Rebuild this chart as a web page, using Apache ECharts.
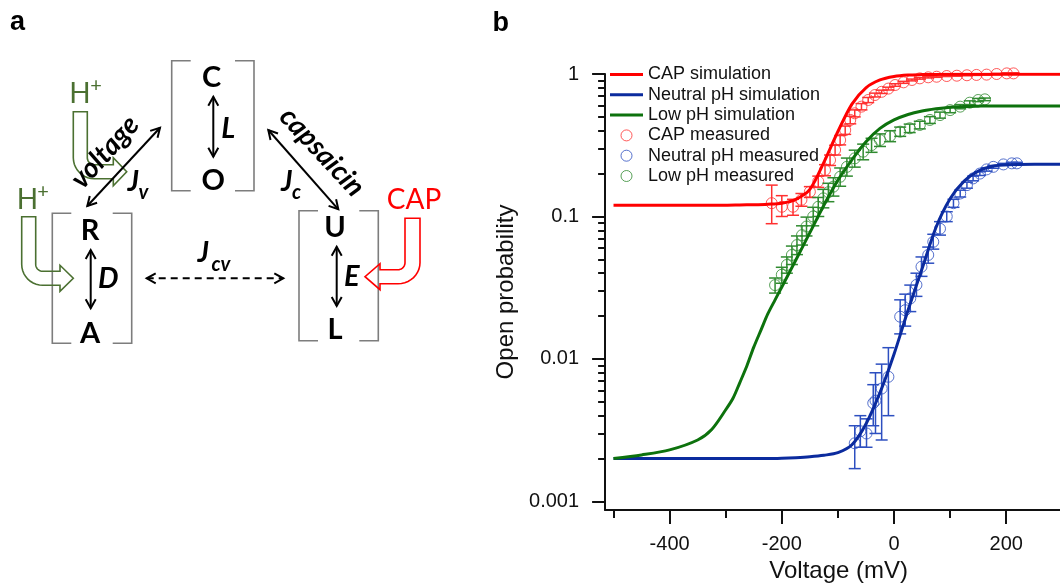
<!DOCTYPE html>
<html><head><meta charset="utf-8">
<script src="https://cdn.jsdelivr.net/npm/echarts@6/dist/echarts.min.js"></script>
<style>html,body{margin:0;padding:0;background:#fff}#c{width:1060px;height:586px}</style>
</head><body><div id="c"></div>
<script>
// ---------- data (panel b) ----------
const xMajorTicks = [-400, -200, 0, 200];
const xMinorTicks = [-500, -300, -100, 100, 300];
const yMajorTicks = [0.001, 0.01, 0.1, 1];
const yMinorTicks = [0.002,0.003,0.004,0.005,0.006,0.007,0.008,0.009,
                     0.02,0.03,0.04,0.05,0.06,0.07,0.08,0.09,
                     0.2,0.3,0.4,0.5,0.6,0.7,0.8,0.9];

const simV   = [-500,-450,-400,-350,-325,-300,-275,-250,-225,-200,-175,-150,-125,-100,-75,-50,-25,0,25,50,75,100,125,150,175,200,250,300];
const capSim = [0.12,0.12,0.12,0.12,0.12,0.12,0.1205,0.121,0.122,0.124,0.132,0.155,0.24,0.395,0.615,0.80,0.908,0.96,0.983,0.99,0.993,0.995,0.995,0.995,0.995,0.995,0.995,0.995];
const neuSim = [0.002,0.002,0.002,0.002,0.002,0.002,0.002,0.002,0.002,0.00201,0.00203,0.00206,0.00211,0.0022,0.0025,0.0035,0.0058,0.0108,0.022,0.043,0.084,0.133,0.177,0.208,0.225,0.231,0.233,0.233];
const lowSimV = [-500,-450,-400,-350,-325,-300,-287,-275,-262,-250,-237,-225,-212,-200,-175,-150,-125,-100,-75,-50,-25,0,25,50,75,100,125,150,175,200,250,300];
const lowSim  = [0.002,0.00212,0.0023,0.0027,0.0032,0.0044,0.0053,0.0068,0.0090,0.0121,0.0160,0.0207,0.026,0.032,0.0495,0.077,0.12,0.18,0.25,0.335,0.415,0.476,0.52,0.55,0.57,0.585,0.592,0.595,0.597,0.597,0.597,0.597];

const capV  = [-218,-200,-180,-165,-150,-135,-123,-114,-105,-96,-87,-78,-70,-58,-46,-34,-22,-10,2,17,32,46,61,76,94,112,130,147,165,183,201,213];
const capP  = [0.124,0.117,0.117,0.131,0.149,0.176,0.212,0.249,0.293,0.344,0.404,0.476,0.53,0.59,0.657,0.712,0.75,0.79,0.837,0.874,0.908,0.932,0.948,0.957,0.968,0.973,0.98,0.985,0.99,1.0,1.01,1.01];
const capLo = [0.089,0.100,0.102,0.118,0.136,0.160,0.193,0.228,0.270,0.318,0.377,0.447,0.500,0.560,0.630,0.690,0.730,0.772,0.820,0.860,0.895,0.920,0.938,0.948,0.960,0.965,0.972,0.978,0.983,0.99,1.0,1.0];
const capHi = [0.166,0.140,0.132,0.145,0.162,0.192,0.231,0.270,0.316,0.370,0.431,0.505,0.560,0.620,0.684,0.734,0.770,0.808,0.854,0.888,0.921,0.944,0.958,0.966,0.976,0.981,0.988,0.992,0.997,1.01,1.02,1.02];

const neuV  = [-70,-60,-49,-37,-33,-22,-10,11,20,29,40,49,61,70,82,94,106,118,130,141,153,165,177,195,210,219];
const neuP  = [0.00256,0.00311,0.0030,0.0049,0.0051,0.0062,0.0075,0.0198,0.022,0.0266,0.0331,0.0444,0.0537,0.0664,0.082,0.1,0.124,0.145,0.166,0.185,0.2,0.214,0.223,0.232,0.236,0.236];
const neuLo = [0.0017,0.0024,0.0024,0.0034,0.0030,0.0027,0.0040,0.0150,0.0170,0.0215,0.0275,0.0380,0.0470,0.0590,0.0740,0.092,0.116,0.137,0.158,0.178,0.194,0.208,0.218,0.228,0.232,0.232];
const neuHi = [0.0034,0.0040,0.0038,0.0066,0.0080,0.0092,0.0120,0.0260,0.0285,0.0330,0.0400,0.0520,0.0610,0.0750,0.0920,0.108,0.132,0.153,0.174,0.192,0.206,0.220,0.228,0.236,0.240,0.240];

const lowV  = [-212,-200,-191,-182,-173,-164,-156,-144,-135,-126,-117,-108,-96,-84,-70,-55,-40,-25,-7,11,28,46,64,82,100,118,135,150,162];
const lowP  = [0.033,0.039,0.0457,0.0537,0.063,0.074,0.085,0.1,0.117,0.134,0.148,0.162,0.19,0.223,0.256,0.285,0.317,0.344,0.367,0.394,0.416,0.439,0.476,0.515,0.558,0.59,0.629,0.657,0.664];
const lowLo = [0.029,0.034,0.040,0.046,0.054,0.063,0.073,0.086,0.100,0.115,0.127,0.139,0.163,0.192,0.222,0.250,0.282,0.310,0.335,0.365,0.388,0.412,0.450,0.490,0.535,0.570,0.610,0.640,0.650];
const lowHi = [0.037,0.044,0.052,0.062,0.073,0.086,0.099,0.116,0.136,0.155,0.171,0.187,0.219,0.257,0.292,0.322,0.354,0.380,0.400,0.424,0.445,0.466,0.502,0.540,0.580,0.610,0.648,0.674,0.678];

const names = ['CAP simulation','Neutral pH simulation','Low pH simulation','CAP measured','Neutral pH measured','Low pH measured'];

// ---------- styles ----------
const C_RED = '#ff0000', C_BLUE = '#0b2b9e', C_GREEN = '#0d720d';
const M_RED = '#ff3030', M_BLUE = '#2d4fc0', M_GREEN = '#2f8a2f';
const FONT = '"Liberation Sans", Arial, sans-serif';
const DFONT = 'Lato, "Open Sans", sans-serif';
const AX = '#111';

const pairs = (xs, ys) => xs.map((x, i) => [x, ys[i]]);
const triples = (xs, lo, hi) => xs.map((x, i) => [x, lo[i], hi[i]]);

function errRender(color) {
  return function (params, api) {
    const x = api.value(0), lo = api.value(1), hi = api.value(2);
    const a = api.coord([x, hi]), b = api.coord([x, lo]);
    const w = 6, st = { stroke: color, lineWidth: 1.5 };
    return { type: 'group', children: [
      { type: 'line', shape: { x1: a[0], y1: a[1], x2: b[0], y2: b[1] }, style: st },
      { type: 'line', shape: { x1: a[0] - w, y1: a[1], x2: a[0] + w, y2: a[1] }, style: st },
      { type: 'line', shape: { x1: b[0] - w, y1: b[1], x2: b[0] + w, y2: b[1] }, style: st }
    ]};
  };
}

// ---------- panel a diagram (graphic elements) ----------
const G = [];
const BR = '#7d7d7d', GR = '#4b7031';
function seg(x1, y1, x2, y2, color, w, dash) {
  G.push({ type: 'line', silent: true, shape: { x1, y1, x2, y2 }, style: { stroke: color, lineWidth: w, lineDash: dash || null } });
}
function poly(points, color, w, closed) {
  G.push({ type: closed ? 'polygon' : 'polyline', silent: true, shape: { points }, style: { stroke: color, lineWidth: w, fill: 'none' } });
}
function bracket(x, y1, y2, dir) {
  poly([[x + dir * 19, y1], [x, y1], [x, y2], [x + dir * 19, y2]], BR, 1.6, false);
}
function head(px, py, ux, uy) {
  const L = 9, W = 5, nx = -uy, ny = ux;
  poly([[px - ux * L + nx * W, py - uy * L + ny * W], [px, py], [px - ux * L - nx * W, py - uy * L - ny * W]], '#000', 2, false);
}
function arrow(x1, y1, x2, y2, dash) {
  seg(x1, y1, x2, y2, '#000', 2, dash);
  const d = Math.hypot(x2 - x1, y2 - y1), ux = (x2 - x1) / d, uy = (y2 - y1) / d;
  head(x2, y2, ux, uy); head(x1, y1, -ux, -uy);
}
function bent(a, w, yTop, yc, th, hb, tip, hh, rin, mirror, color) {
  const b = a + w, yt = yc - th / 2, yb = yc + th / 2;
  const cx = b + rin, cy = yt - rin;
  const pts = [[a, yTop], [b, yTop], [b, cy]];
  for (let k = 1; k <= 10; k++) { const t = Math.PI - k * Math.PI / 20; pts.push([cx + rin * Math.cos(t), cy + rin * Math.sin(t)]); }
  pts.push([hb, yt], [hb, yc - hh], [tip, yc], [hb, yc + hh], [hb, yb]);
  const Rx = cx - a, Ry = yb - cy;
  for (let k = 0; k <= 10; k++) { const t = Math.PI / 2 + k * Math.PI / 20; pts.push([cx + Rx * Math.cos(t), cy + Ry * Math.sin(t)]); }
  const out = mirror == null ? pts : pts.map(p => [2 * mirror - p[0], p[1]]);
  poly(out, color, 1.6, true);
}
function txt(s, x, y, font, color, rot, align) {
  G.push({ type: 'text', silent: true, x, y, rotation: rot || 0,
    style: { text: s, font, fill: color || '#000', align: align || 'center', verticalAlign: 'middle',
             textAlign: align || 'center', textVerticalAlign: 'middle' } });
}

// brackets
bracket(171.7, 60.7, 190.7, 1);  bracket(254, 60.7, 190.7, -1);
bracket(52.3, 213.3, 343.3, 1);  bracket(131.7, 213.3, 343.3, -1);
bracket(299, 210.7, 340.7, 1);   bracket(378.3, 210.7, 340.7, -1);
// hollow bent arrows
bent(73.3, 14, 111.7, 171.7, 14, 113.3, 126.7, 14, 7, null, GR);
bent(21.7, 14, 216.7, 278.3, 14, 60, 73.3, 13, 7, null, GR);
bent(380, 15, 218.3, 276.7, 14, 420, 435, 13, 7, 400, C_RED);
// black arrows
arrow(213.3, 96.7, 213.3, 156.7);
arrow(90.7, 250, 90.7, 308.3);
arrow(336.7, 246.7, 336.7, 306);
arrow(87.3, 206, 160, 127.7);
arrow(268.3, 130, 338.3, 209.3);
arrow(146.7, 278.3, 283.3, 278.3, [7, 5]);
// letters
const LB = 'bold 29px ' + DFONT, LI = 'italic bold 29px ' + DFONT;
txt('C', 211.7, 77.3, LB); txt('O', 213.3, 181, LB); txt('L', 228.3, 128.3, LI);
txt('R', 90, 230.7, LB); txt('A', 90, 333.3, LB); txt('D', 108.3, 278.3, LI);
txt('U', 335, 227.7, LB); txt('L', 335, 330, LB); txt('E', 351.7, 276.7, LI);
const JF = 'italic bold 28px ' + DFONT, SF = 'italic bold 20px ' + DFONT;
txt('J', 133.3, 181.7, JF); txt('v', 143.5, 193, SF);
txt('J', 286.7, 181.7, JF); txt('c', 296.5, 193, SF);
txt('J', 203.3, 253.3, JF); txt('cv', 221, 265, SF);
txt('voltage', 105, 152, 'italic bold 28px ' + DFONT, '#000', 0.84);
txt('capsaicin', 322, 152, 'italic bold 28px ' + DFONT, '#000', -0.82);
txt('H', 80, 94, '28px ' + DFONT, GR); txt('+', 96, 86, '20px ' + DFONT, GR);
txt('H', 27.5, 200, '28px ' + DFONT, GR); txt('+', 43, 192, '20px ' + DFONT, GR);
txt('CAP', 414, 200, '28px ' + DFONT, C_RED);
txt('a', 17.5, 23, 'bold 27px ' + FONT);
txt('b', 500.8, 24, 'bold 27px ' + FONT);

// ---------- chart ----------
const LINE_ICON = 'path://M0,0M0,4L33,4L33,7L0,7ZM33,11';
const chart = echarts.init(document.getElementById('c'), null, { renderer: 'canvas' });
const yMin = 0.000871;
const SYM = 11;
const lineSeries = (name, xs, ys, color) => ({
  name, type: 'line', z: 4, symbol: 'none', smooth: 0.3,
  lineStyle: { color, width: 3 }, itemStyle: { color }, data: pairs(xs, ys) });
const scatterSeries = (name, xs, ys, color) => ({
  name, type: 'scatter', z: 2, clip: false, symbol: 'circle', symbolSize: SYM,
  itemStyle: { color: 'rgba(255,255,255,0)', borderColor: color, borderWidth: 1 }, data: pairs(xs, ys) });
const option = {
  animation: false,
  backgroundColor: '#fff',
  textStyle: { fontFamily: FONT },
  grid: { left: 605.1, top: 74, width: 457.2, height: 436, outerBoundsMode: 'none', containLabel: false },
  legend: {
    orient: 'vertical', left: 605, top: 60.5, itemWidth: 33, itemHeight: 11, itemGap: 2.3,
    selectedMode: false, padding: 5,
    textStyle: { fontSize: 18, color: '#111', fontFamily: FONT },
    data: [
      { name: names[0], icon: LINE_ICON, itemStyle: { color: C_RED, borderWidth: 0 } },
      { name: names[1], icon: LINE_ICON, itemStyle: { color: C_BLUE, borderWidth: 0 } },
      { name: names[2], icon: LINE_ICON, itemStyle: { color: C_GREEN, borderWidth: 0 } },
      { name: names[3], icon: 'circle', itemStyle: { color: 'rgba(255,255,255,0)', borderColor: M_RED, borderWidth: 1 } },
      { name: names[4], icon: 'circle', itemStyle: { color: 'rgba(255,255,255,0)', borderColor: M_BLUE, borderWidth: 1 } },
      { name: names[5], icon: 'circle', itemStyle: { color: 'rgba(255,255,255,0)', borderColor: M_GREEN, borderWidth: 1 } }
    ]
  },
  xAxis: [
    { type: 'value', min: -515, max: 300, position: 'bottom',
      name: 'Voltage (mV)', nameLocation: 'middle', nameGap: 48,
      nameTextStyle: { fontSize: 24, color: AX, fontFamily: FONT, padding: [0, 0, 0, 10] },
      axisLine: { show: true, onZero: false, lineStyle: { color: AX, width: 2 } },
      axisTick: { show: true, length: 14, lineStyle: { color: AX, width: 2 }, customValues: xMajorTicks },
      axisLabel: { show: true, margin: 24, fontSize: 20, color: AX, fontFamily: FONT, customValues: xMajorTicks },
      splitLine: { show: false } },
    { type: 'value', min: -515, max: 300, position: 'bottom',
      axisLine: { show: false, onZero: false },
      axisTick: { show: true, length: 8, lineStyle: { color: AX, width: 2 }, customValues: xMinorTicks },
      axisLabel: { show: false }, splitLine: { show: false } }
  ],
  yAxis: [
    { type: 'log', logBase: 10, min: yMin, max: 1, position: 'left',
      name: 'Open probability', nameLocation: 'middle', nameGap: 87,
      nameTextStyle: { fontSize: 24, color: AX, fontFamily: FONT },
      axisLine: { show: true, onZero: false, lineStyle: { color: AX, width: 2 } },
      axisTick: { show: true, length: 13, lineStyle: { color: AX, width: 2 }, customValues: yMajorTicks },
      axisLabel: { show: true, margin: 26, fontSize: 20, color: AX, fontFamily: FONT, customValues: yMajorTicks,
                   formatter: v => String(+Number(v).toPrecision(3)) },
      splitLine: { show: false } },
    { type: 'log', logBase: 10, min: yMin, max: 1, position: 'left',
      axisLine: { show: false, onZero: false },
      axisTick: { show: true, length: 7, lineStyle: { color: AX, width: 2 }, customValues: yMinorTicks },
      axisLabel: { show: false }, splitLine: { show: false } }
  ],
  series: [
    scatterSeries(names[3], capV, capP, M_RED),
    scatterSeries(names[4], neuV, neuP, M_BLUE),
    scatterSeries(names[5], lowV, lowP, M_GREEN),
    { type: 'custom', z: 3, renderItem: errRender(M_RED), encode: { x: 0, y: [1, 2] }, data: triples(capV, capLo, capHi) },
    { type: 'custom', z: 3, renderItem: errRender(M_BLUE), encode: { x: 0, y: [1, 2] }, data: triples(neuV, neuLo, neuHi) },
    { type: 'custom', z: 3, renderItem: errRender(M_GREEN), encode: { x: 0, y: [1, 2] }, data: triples(lowV, lowLo, lowHi) },
    lineSeries(names[0], simV, capSim, C_RED),
    lineSeries(names[1], simV, neuSim, C_BLUE),
    lineSeries(names[2], lowSimV, lowSim, C_GREEN)
  ],
  graphic: { elements: G }
};
chart.setOption(option);
</script></body></html>
